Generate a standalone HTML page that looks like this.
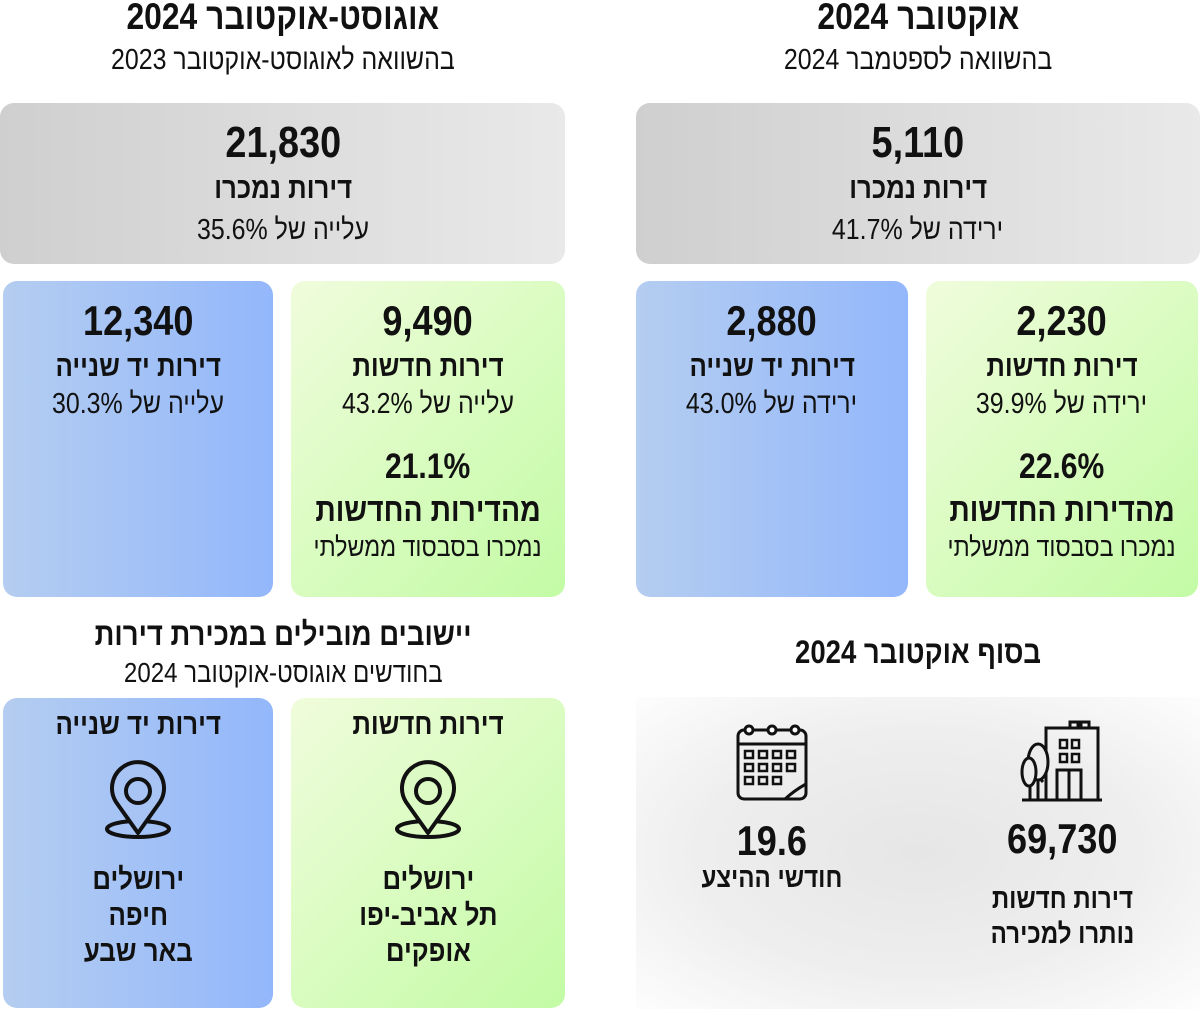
<!DOCTYPE html>
<html><head><meta charset="utf-8"><style>
body{margin:0;width:1200px;height:1009px;background:#fff;position:relative;overflow:hidden;font-family:"Liberation Sans","DejaVu Sans",sans-serif;color:#111}
.b{position:absolute;border-radius:14px}
.t{position:absolute;text-align:center;white-space:nowrap;direction:rtl}
.t span{display:inline-block;transform:scaleX(.86)}
.bd{font-weight:bold}
.blue{background:linear-gradient(90deg,#b4cdf0,#93b7fb)}
.green{background:linear-gradient(135deg,#f0fcdc,#c3fba5)}
.gray{background:linear-gradient(90deg,#cfcfcf,#e9e9e9)}
</style></head><body>
<div class="b gray" style="left:0;top:103px;width:565px;height:161px"></div>
<div class="b gray" style="left:636px;top:103px;width:564px;height:161px"></div>
<div class="b blue" style="left:3px;top:281px;width:270px;height:316px"></div>
<div class="b green" style="left:291px;top:281px;width:274px;height:316px"></div>
<div class="b blue" style="left:636px;top:281px;width:272px;height:316px"></div>
<div class="b green" style="left:926px;top:281px;width:272px;height:316px"></div>
<div class="b blue" style="left:3px;top:698px;width:270px;height:310px"></div>
<div class="b green" style="left:291px;top:698px;width:274px;height:310px"></div>
<div class="b" style="left:636px;top:697px;width:564px;height:312px;border-radius:0;background:radial-gradient(ellipse at center,#e6e6e6 0%,#eeeeee 55%,#fdfdfd 100%)"></div>

<div class="t bd" style="left:0;width:566px;top:-3px;font-size:37px;line-height:40px"><span>אוגוסט-אוקטובר 2024</span></div>
<div class="t" style="left:0;width:566px;top:43px;font-size:29px;line-height:34px"><span>בהשוואה לאוגוסט-אוקטובר 2023</span></div>
<div class="t bd" style="left:636px;width:564px;top:-3px;font-size:37px;line-height:40px"><span>אוקטובר 2024</span></div>
<div class="t" style="left:636px;width:564px;top:43px;font-size:29px;line-height:34px"><span>בהשוואה לספטמבר 2024</span></div>

<div class="t bd" style="left:0;width:566px;top:120px;font-size:44px;line-height:46px"><span>21,830</span></div>
<div class="t bd" style="left:0;width:566px;top:172px;font-size:30px;line-height:34px"><span>דירות נמכרו</span></div>
<div class="t" style="left:0;width:566px;top:213px;font-size:29px;line-height:34px"><span>עלייה של 35.6%</span></div>
<div class="t bd" style="left:636px;width:564px;top:120px;font-size:44px;line-height:46px"><span>5,110</span></div>
<div class="t bd" style="left:636px;width:564px;top:172px;font-size:30px;line-height:34px"><span>דירות נמכרו</span></div>
<div class="t" style="left:636px;width:564px;top:213px;font-size:29px;line-height:34px"><span>ירידה של 41.7%</span></div>

<div class="t bd" style="left:3px;width:270px;top:299px;font-size:42px;line-height:44px"><span>12,340</span></div>
<div class="t bd" style="left:3px;width:270px;top:350px;font-size:30px;line-height:34px"><span>דירות יד שנייה</span></div>
<div class="t" style="left:3px;width:270px;top:387px;font-size:29px;line-height:34px"><span>עלייה של 30.3%</span></div>

<div class="t bd" style="left:291px;width:274px;top:299px;font-size:42px;line-height:44px"><span>9,490</span></div>
<div class="t bd" style="left:291px;width:274px;top:350px;font-size:30px;line-height:34px"><span>דירות חדשות</span></div>
<div class="t" style="left:291px;width:274px;top:387px;font-size:29px;line-height:34px"><span>עלייה של 43.2%</span></div>
<div class="t bd" style="left:291px;width:274px;top:448px;font-size:35px;line-height:38px"><span>21.1%</span></div>
<div class="t bd" style="left:291px;width:274px;top:492px;font-size:33px;line-height:36px"><span>מהדירות החדשות</span></div>
<div class="t" style="left:291px;width:274px;top:531px;font-size:27px;line-height:32px"><span>נמכרו בסבסוד ממשלתי</span></div>

<div class="t bd" style="left:636px;width:272px;top:299px;font-size:42px;line-height:44px"><span>2,880</span></div>
<div class="t bd" style="left:636px;width:272px;top:350px;font-size:30px;line-height:34px"><span>דירות יד שנייה</span></div>
<div class="t" style="left:636px;width:272px;top:387px;font-size:29px;line-height:34px"><span>ירידה של 43.0%</span></div>

<div class="t bd" style="left:926px;width:272px;top:299px;font-size:42px;line-height:44px"><span>2,230</span></div>
<div class="t bd" style="left:926px;width:272px;top:350px;font-size:30px;line-height:34px"><span>דירות חדשות</span></div>
<div class="t" style="left:926px;width:272px;top:387px;font-size:29px;line-height:34px"><span>ירידה של 39.9%</span></div>
<div class="t bd" style="left:926px;width:272px;top:448px;font-size:35px;line-height:38px"><span>22.6%</span></div>
<div class="t bd" style="left:926px;width:272px;top:492px;font-size:33px;line-height:36px"><span>מהדירות החדשות</span></div>
<div class="t" style="left:926px;width:272px;top:531px;font-size:27px;line-height:32px"><span>נמכרו בסבסוד ממשלתי</span></div>

<div class="t bd" style="left:0;width:566px;top:617px;font-size:32px;line-height:34px"><span>יישובים מובילים במכירת דירות</span></div>
<div class="t" style="left:0;width:566px;top:657px;font-size:28px;line-height:32px"><span>בחודשים אוגוסט-אוקטובר 2024</span></div>
<div class="t bd" style="left:636px;width:564px;top:635px;font-size:32px;line-height:34px"><span>בסוף אוקטובר 2024</span></div>

<div class="t bd" style="left:3px;width:270px;top:708px;font-size:30px;line-height:34px"><span>דירות יד שנייה</span></div>
<div class="t bd" style="left:291px;width:274px;top:708px;font-size:30px;line-height:34px"><span>דירות חדשות</span></div>
<svg style="position:absolute;left:98px;top:760px" width="80" height="82" viewBox="0 0 80 82" fill="none" stroke="#111" stroke-width="4">
<ellipse cx="40" cy="69" rx="31" ry="8"/><path d="M40 73 L18 42 A26 26 0 1 1 62 42 Z" fill="#a8c4f4" stroke-linejoin="round"/><circle cx="40" cy="31" r="12"/></svg>
<svg style="position:absolute;left:388px;top:760px" width="80" height="82" viewBox="0 0 80 82" fill="none" stroke="#111" stroke-width="4">
<ellipse cx="40" cy="69" rx="31" ry="8"/><path d="M40 73 L18 42 A26 26 0 1 1 62 42 Z" fill="#dcfbc4" stroke-linejoin="round"/><circle cx="40" cy="31" r="12"/></svg>
<div class="t bd" style="left:3px;width:270px;top:862px;font-size:30px;line-height:36px"><span>ירושלים<br>חיפה<br>באר שבע</span></div>
<div class="t bd" style="left:291px;width:274px;top:862px;font-size:30px;line-height:36px"><span>ירושלים<br>תל אביב-יפו<br>אופקים</span></div>

<svg style="position:absolute;left:735px;top:720px" width="76" height="82" viewBox="0 0 76 82" fill="none" stroke="#111" stroke-width="3">
<rect x="3" y="10" width="68" height="69" rx="6"/><line x1="3" y1="24" x2="71" y2="24"/>
<circle cx="14" cy="10" r="4" fill="#fff"/><circle cx="37" cy="10" r="4" fill="#fff"/><circle cx="60" cy="10" r="4" fill="#fff"/>
<g stroke-width="2.5"><rect x="10" y="31" width="8" height="7"/><rect x="24" y="31" width="8" height="7"/><rect x="38" y="31" width="8" height="7"/><rect x="52" y="31" width="8" height="7"/>
<rect x="10" y="44" width="8" height="7"/><rect x="24" y="44" width="8" height="7"/><rect x="38" y="44" width="8" height="7"/><rect x="52" y="44" width="8" height="7"/>
<rect x="10" y="57" width="8" height="7"/><rect x="24" y="57" width="8" height="7"/><rect x="38" y="57" width="8" height="7"/></g>
<path d="M50 79 Q60 70 71 64"/></svg>
<svg style="position:absolute;left:1020px;top:720px" width="84" height="84" viewBox="0 0 84 84" fill="none" stroke="#111" stroke-width="3">
<rect x="26" y="8" width="52" height="72"/><rect x="50" y="2" width="8" height="6"/><rect x="61" y="2" width="8" height="6"/>
<g stroke-width="2.5"><rect x="40" y="20" width="7" height="8"/><rect x="52" y="20" width="7" height="8"/><rect x="40" y="34" width="7" height="8"/><rect x="52" y="34" width="7" height="8"/></g>
<rect x="37" y="50" width="24" height="30"/><line x1="49" y1="50" x2="49" y2="80"/>
<path d="M18 80 V50 M13 62 L18 56 L23 62" /><path d="M10 80 V64" /><ellipse cx="18" cy="42" rx="10" ry="18" fill="#ececec"/><ellipse cx="9" cy="52" rx="7" ry="14" fill="#ececec"/>
<line x1="2" y1="80" x2="82" y2="80"/></svg>

<div class="t bd" style="left:636px;width:272px;top:819px;font-size:42px;line-height:44px"><span>19.6</span></div>
<div class="t bd" style="left:636px;width:272px;top:862px;font-size:28px;line-height:32px"><span>חודשי ההיצע</span></div>
<div class="t bd" style="left:926px;width:272px;top:817px;font-size:42px;line-height:44px"><span>69,730</span></div>
<div class="t bd" style="left:926px;width:272px;top:881px;font-size:28px;line-height:35px"><span>דירות חדשות<br>נותרו למכירה</span></div>
</body></html>
